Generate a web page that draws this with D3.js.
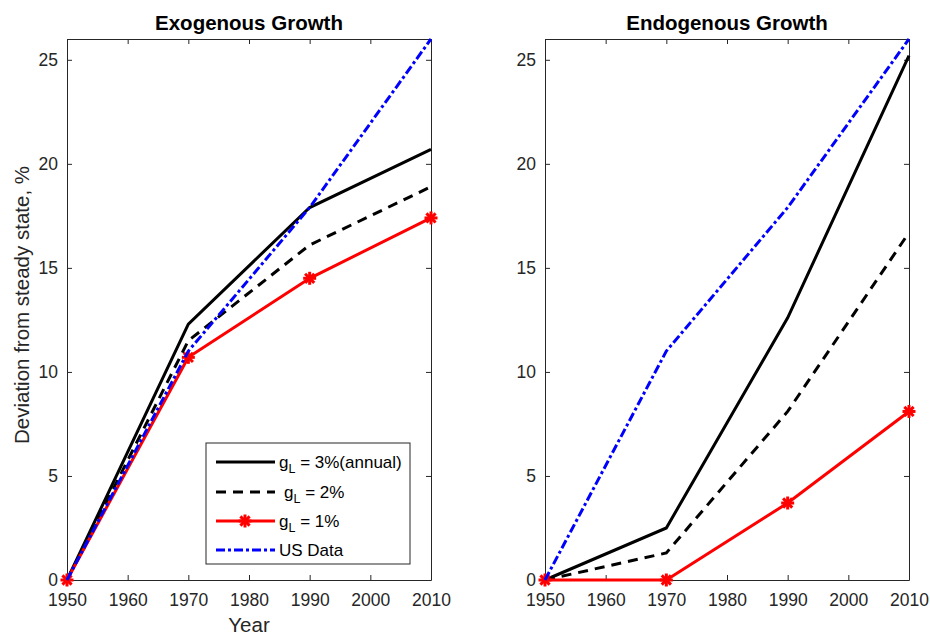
<!DOCTYPE html>
<html>
<head>
<meta charset="utf-8">
<script src="https://cdn.jsdelivr.net/npm/d3@7"></script>
<style>
  body { margin: 0; background: #fff; }
  svg { font-family: "Liberation Sans", Arial, sans-serif; }
</style>
</head>
<body>
<div id="chart"></div>
<script>
// data
var years = [1950, 1970, 1990, 2010];
var xTicks = [1950, 1960, 1970, 1980, 1990, 2000, 2010];
var yTicks = [0, 5, 10, 15, 20, 25];

// exogenous growth panel
var exoG3 = [0, 12.3, 17.9, 20.7];
var exoG2 = [0, 11.5, 16.1, 18.9];
var exoG1 = [0, 10.7, 14.5, 17.4];
var usData = [0, 11.0, 17.9, 26.0];

// endogenous growth panel
var endoG3 = [0, 2.5, 12.6, 25.2];
var endoG2 = [0, 1.3, 8.1, 16.7];
var endoG1 = [0, 0, 3.7, 8.1];

var panelTitles = ["Exogenous Growth", "Endogenous Growth"];
var legendLabels = ["3%(annual)", "2%", "1%"];

var width = 930, height = 637;
var axisColor = "#262626";

var svg = d3.select("#chart")
            .append("svg")
            .attr("width", width)
            .attr("height", height);

// series styles
var styles = [
    {color: "#000000", dash: null, marker: false},
    {color: "#000000", dash: "10,7", marker: false},
    {color: "#ff0000", dash: null, marker: true},
    {color: "#0000ff", dash: "9,3,3,3", marker: false}
];

// draws an asterisk marker
function asterisk(g, x, y, color) {
    var r = 6.5;
    var m = g.append("g").attr("transform", "translate(" + x + "," + y + ")");
    [0, 45, 90, 135].forEach(function(a) {
        var rad = a * Math.PI / 180;
        m.append("line")
         .attr("x1", -r * Math.cos(rad)).attr("y1", -r * Math.sin(rad))
         .attr("x2", r * Math.cos(rad)).attr("y2", r * Math.sin(rad))
         .attr("stroke", color)
         .attr("stroke-width", 3);
    });
}

// makes one panel
function makePanel(left, right, title, series) {
    var top = 39, bottom = 580;
    var xScale = d3.scaleLinear().domain([1950, 2010]).range([left, right]);
    var yScale = d3.scaleLinear().domain([0, 26]).range([bottom, top]);

    var g = svg.append("g");

    // bottom axis
    g.append("g")
     .attr("transform", "translate(0," + bottom + ")")
     .call(d3.axisBottom(xScale).tickValues(xTicks).tickFormat(d3.format("d"))
             .tickSizeInner(-5).tickSizeOuter(0).tickPadding(14))
     .call(function(a) {
         a.select(".domain").attr("stroke", axisColor);
         a.selectAll(".tick line").attr("stroke", axisColor);
         a.selectAll("text").attr("font-size", 17.5).attr("fill", axisColor);
     });

    // top axis (ticks only)
    g.append("g")
     .attr("transform", "translate(0," + top + ")")
     .call(d3.axisTop(xScale).tickValues(xTicks).tickFormat("")
             .tickSizeInner(-5).tickSizeOuter(0))
     .call(function(a) {
         a.select(".domain").attr("stroke", axisColor);
         a.selectAll(".tick line").attr("stroke", axisColor);
     });

    // left axis
    g.append("g")
     .attr("transform", "translate(" + left + ",0)")
     .call(d3.axisLeft(yScale).tickValues(yTicks)
             .tickSizeInner(-5).tickSizeOuter(0).tickPadding(9))
     .call(function(a) {
         a.select(".domain").attr("stroke", axisColor);
         a.selectAll(".tick line").attr("stroke", axisColor);
         a.selectAll("text").attr("font-size", 17.5).attr("fill", axisColor);
     });

    // right axis (ticks only)
    g.append("g")
     .attr("transform", "translate(" + right + ",0)")
     .call(d3.axisRight(yScale).tickValues(yTicks).tickFormat("")
             .tickSizeInner(-5).tickSizeOuter(0))
     .call(function(a) {
         a.select(".domain").attr("stroke", axisColor);
         a.selectAll(".tick line").attr("stroke", axisColor);
     });

    // lines
    var line = d3.line()
                 .x(function(d, i) { return xScale(years[i]); })
                 .y(function(d) { return yScale(d); });

    series.forEach(function(s, k) {
        var st = styles[k];
        g.append("path")
         .datum(s)
         .attr("d", line)
         .attr("fill", "none")
         .attr("stroke", st.color)
         .attr("stroke-width", 3)
         .attr("stroke-dasharray", st.dash);
        if (st.marker) {
            s.forEach(function(d, i) {
                asterisk(g, xScale(years[i]), yScale(d), st.color);
            });
        }
    });

    // title
    g.append("text")
     .attr("x", (left + right) / 2)
     .attr("y", 30)
     .attr("text-anchor", "middle")
     .attr("font-size", 20.5)
     .attr("font-weight", "bold")
     .attr("fill", "#000")
     .text(title);

    return {x: xScale, y: yScale};
}

makePanel(67, 431, panelTitles[0], [exoG3, exoG2, exoG1, usData]);
makePanel(545, 909, panelTitles[1], [endoG3, endoG2, endoG1, usData]);

// axis labels
svg.append("text")
   .attr("x", 249)
   .attr("y", 632)
   .attr("text-anchor", "middle")
   .attr("font-size", 20.5)
   .attr("fill", axisColor)
   .text("Year");

svg.append("text")
   .attr("transform", "translate(29,305) rotate(-90)")
   .attr("text-anchor", "middle")
   .attr("font-size", 20.5)
   .attr("fill", axisColor)
   .text("Deviation from steady state, %");

// legend
var legend = svg.append("g");
legend.append("rect")
      .attr("x", 206).attr("y", 443)
      .attr("width", 204).attr("height", 121)
      .attr("fill", "#fff")
      .attr("stroke", axisColor)
      .attr("stroke-width", 1);

var rowsY = [462, 492, 521, 550];
rowsY.forEach(function(y, k) {
    var st = styles[k];
    legend.append("line")
          .attr("x1", 216).attr("x2", 275)
          .attr("y1", y).attr("y2", y)
          .attr("stroke", st.color)
          .attr("stroke-width", 3)
          .attr("stroke-dasharray", st.dash);
    if (st.marker) asterisk(legend, 245, y, st.color);

    var t = legend.append("text")
                  .attr("x", k == 1 ? 284 : 279)
                  .attr("y", y + 6)
                  .attr("font-size", 17)
                  .attr("fill", "#000");
    if (k < 3) {
        t.append("tspan").text("g");
        t.append("tspan").attr("font-size", 12.5).attr("dy", 5).text("L");
        t.append("tspan").attr("dy", -5).text(" = " + legendLabels[k]);
    } else {
        t.text("US Data");
    }
});
</script>
</body>
</html>
